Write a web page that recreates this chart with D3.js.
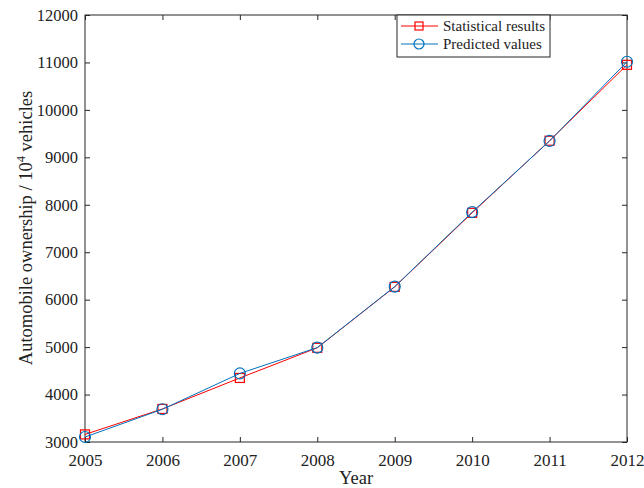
<!DOCTYPE html>
<html><head><meta charset="utf-8">
<script src="https://cdn.jsdelivr.net/npm/d3@7"></script>
<style>body{margin:0;background:#fff}svg{display:block}text{font-family:"Liberation Serif","Times New Roman",serif;fill:#222}</style>
</head><body>
<svg id="c" width="644" height="488"></svg>
<script>
const years = [2005, 2006, 2007, 2008, 2009, 2010, 2011, 2012];
const statistical = [3160, 3697, 4350, 4985, 6270, 7830, 9350, 10950];
const predicted = [3105, 3690, 4445, 4990, 6275, 7845, 9345, 11015];
const yTicks = [3000, 4000, 5000, 6000, 7000, 8000, 9000, 10000, 11000, 12000];
const seriesNames = ["Statistical results", "Predicted values"];

const svg = d3.select("#c");
const L = 85, R = 627, T = 15, B = 442;
const x = d3.scaleLinear().domain([2005, 2012]).range([L, R]);
const y = d3.scaleLinear().domain([3000, 12000]).range([B, T]);
const axisColor = "#262626";

svg.append("rect").attr("x", L).attr("y", T).attr("width", R - L).attr("height", B - T)
  .attr("fill", "none").attr("stroke", axisColor).attr("stroke-width", 1);

const fmt = d3.format("d");
const ax = (g) => g.selectAll("path.domain").remove();
const styleText = (g, fs) => g.selectAll("text").attr("font-size", fs).attr("fill", "#222").attr("font-family", "Liberation Serif");
svg.append("g").attr("transform", `translate(0,${B})`)
  .call(d3.axisBottom(x).tickValues(years).tickFormat(fmt).tickSizeInner(-5).tickSizeOuter(0).tickPadding(12))
  .call(ax).call(g => { g.selectAll("line").attr("stroke", axisColor); styleText(g, 17); });
svg.append("g").attr("transform", `translate(0,${T})`)
  .call(d3.axisTop(x).tickValues(years).tickFormat("").tickSizeInner(-5).tickSizeOuter(0))
  .call(ax).call(g => g.selectAll("line").attr("stroke", axisColor));
svg.append("g").attr("transform", `translate(${L},0)`)
  .call(d3.axisLeft(y).tickValues(yTicks).tickFormat(fmt).tickSizeInner(-5).tickSizeOuter(0).tickPadding(7))
  .call(ax).call(g => { g.selectAll("line").attr("stroke", axisColor); styleText(g, 16.5); });
svg.append("g").attr("transform", `translate(${R},0)`)
  .call(d3.axisRight(y).tickValues(yTicks).tickFormat("").tickSizeInner(-5).tickSizeOuter(0))
  .call(ax).call(g => g.selectAll("line").attr("stroke", axisColor));

const line = d3.line().x((d, i) => x(years[i])).y(d => y(d));
const red = "#ff0000", blue = "#0072bd";

svg.append("path").datum(statistical).attr("d", line).attr("fill", "none").attr("stroke", red).attr("stroke-width", 1);
svg.selectAll("rect.sq").data(statistical).enter().append("rect").attr("class", "sq")
  .attr("x", (d, i) => x(years[i]) - 4.5).attr("y", d => y(d) - 4.5).attr("width", 9).attr("height", 9)
  .attr("fill", "none").attr("stroke", red).attr("stroke-width", 1.2);

svg.append("path").datum(predicted).attr("d", line).attr("fill", "none").attr("stroke", blue).attr("stroke-width", 1);
svg.selectAll("circle.pc").data(predicted).enter().append("circle").attr("class", "pc")
  .attr("cx", (d, i) => x(years[i])).attr("cy", d => y(d)).attr("r", 5.5)
  .attr("fill", "none").attr("stroke", blue).attr("stroke-width", 1.2);

const lg = svg.append("g");
lg.append("rect").attr("x", 397).attr("y", 15).attr("width", 153).attr("height", 42)
  .attr("fill", "#fff").attr("stroke", axisColor).attr("stroke-width", 1);
const rows = [{name: seriesNames[0], c: red, m: "sq", yy: 26}, {name: seriesNames[1], c: blue, m: "ci", yy: 44}];
rows.forEach(r => {
  lg.append("line").attr("x1", 401).attr("x2", 438).attr("y1", r.yy).attr("y2", r.yy).attr("stroke", r.c).attr("stroke-width", 1);
  if (r.m === "sq") lg.append("rect").attr("x", 415).attr("y", r.yy - 4).attr("width", 8).attr("height", 8).attr("fill", "none").attr("stroke", r.c).attr("stroke-width", 1.2);
  else lg.append("circle").attr("cx", 419).attr("cy", r.yy).attr("r", 5).attr("fill", "none").attr("stroke", r.c).attr("stroke-width", 1.2);
  lg.append("text").attr("x", 443).attr("y", r.yy + 5).attr("font-size", 15).text(r.name);
});

svg.append("text").attr("x", 356).attr("y", 484).attr("text-anchor", "middle").attr("font-size", 18.5).text("Year");
const yl = svg.append("text").attr("transform", "translate(32,228) rotate(-90)").attr("text-anchor", "middle").attr("font-size", 18.5);
yl.append("tspan").text("Automobile ownership / 10");
yl.append("tspan").attr("dy", -7).attr("font-size", 12.5).text("4");
yl.append("tspan").attr("dy", 7).text(" vehicles");
</script>
</body></html>
